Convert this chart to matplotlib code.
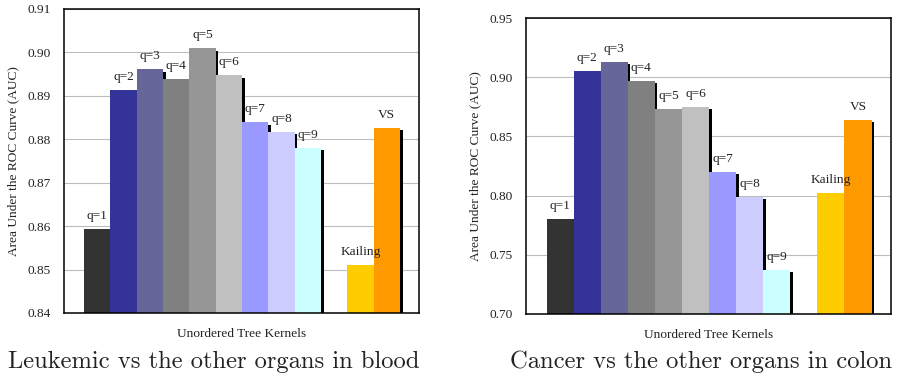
import matplotlib
matplotlib.use('Agg')
import matplotlib.pyplot as plt
import matplotlib.patheffects as pe
import numpy as np

labels = ['q=1', 'q=2', 'q=3', 'q=4', 'q=5', 'q=6', 'q=7', 'q=8', 'q=9', 'Kailing', 'VS']
colors = ['#333333', '#333399', '#666699', '#808080', '#969696', '#c0c0c0',
          '#9999ff', '#ccccff', '#ccffff', '#ffcc00', '#ff9900']
positions = [0, 1, 2, 3, 4, 5, 6, 7, 8, 10, 11]

blood_auc = [0.8594, 0.8914, 0.8961, 0.8939, 0.9010, 0.8947,
             0.8839, 0.8817, 0.8780, 0.8511, 0.8826]
colon_auc = [0.7803, 0.9055, 0.9131, 0.8970, 0.8733, 0.8750,
             0.8201, 0.7989, 0.7372, 0.8023, 0.8640]

blood_ticks = [0.84, 0.85, 0.86, 0.87, 0.88, 0.89, 0.90, 0.91]
colon_ticks = [0.70, 0.75, 0.80, 0.85, 0.90, 0.95]

captions = ['Leukemic vs the other organs in blood', 'Cancer vs the other organs in colon']

serif = ['Liberation Serif', 'DejaVu Serif']
fs = 9.6

fig = plt.figure(figsize=(8.99, 3.76), dpi=100)
ax1 = fig.add_axes([0.0712, 0.1676, 0.3949, 0.8085])
ax2 = fig.add_axes([0.5851, 0.1649, 0.4060, 0.7872])

# black drop shadow to the lower right of each bar
shadow = [pe.SimplePatchShadow(offset=(1.8, -1.8), shadow_rgbFace='black', alpha=1.0), pe.Normal()]


def draw(ax, values, ticks):
    bars = ax.bar(positions, values, width=1.0, color=colors, linewidth=0, zorder=2)
    for b in bars:
        b.set_path_effects(shadow)
    for x, v, lab in zip(positions, values, labels):
        ax.annotate(lab, (x, v), xytext=(0, 5), textcoords='offset points',
                    ha='center', va='bottom', fontsize=fs, family=serif, color='#222222')
    ax.set_xlim(-1.26, 12.22)
    ax.set_ylim(ticks[0], ticks[-1])
    ax.set_yticks(ticks)
    ax.set_yticklabels(['%.2f' % t for t in ticks], family=serif, fontsize=fs, color='#222222')
    ax.set_xticks([])
    ax.tick_params(axis='y', length=0, pad=9.5)
    ax.yaxis.grid(True, color='#bdbdbd', linewidth=0.8)
    ax.set_axisbelow(True)
    for s in ax.spines.values():
        s.set_color('black')
        s.set_linewidth(1.1)
    ax.set_ylabel('Area Under the ROC Curve (AUC)', family=serif, fontsize=fs, color='#222222', labelpad=6)
    ax.set_xlabel('Unordered Tree Kernels', family=serif, fontsize=fs, color='#222222', labelpad=11)


draw(ax1, blood_auc, blood_ticks)
draw(ax2, colon_auc, colon_ticks)

fig.text(214 / 899, 1 - 362 / 376, captions[0], family='cmr10', fontsize=17.7,
         ha='center', va='center', color='#222222')
fig.text(701 / 899, 1 - 362 / 376, captions[1], family='cmr10', fontsize=17.7,
         ha='center', va='center', color='#222222')

fig.savefig('out.png', dpi=100)
